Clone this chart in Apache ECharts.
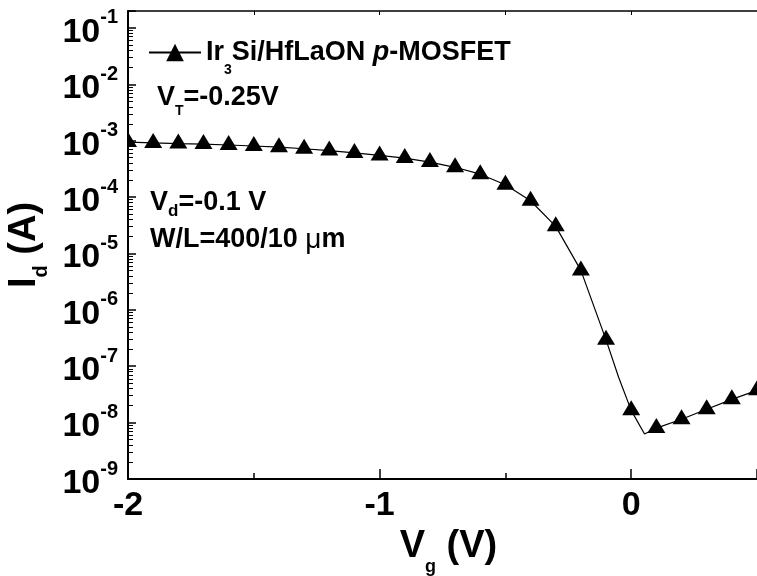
<!DOCTYPE html>
<html><head><meta charset="utf-8">
<script src="https://cdn.jsdelivr.net/npm/echarts@6/dist/echarts.min.js"></script>
<style>html,body{margin:0;padding:0;background:#fff}#c{width:757px;height:576px}</style>
</head><body><div id="c"></div>
<script>
// ---- data ----
const seriesName = 'Ir3Si/HfLaON p-MOSFET';
const markerVg = [-2.0,-1.9,-1.8,-1.7,-1.6,-1.5,-1.4,-1.3,-1.2,-1.1,-1.0,-0.9,-0.8,-0.7,-0.6,-0.5,-0.4,-0.3,-0.2,-0.1,0.0,0.1,0.2,0.3,0.4,0.5];
const markerId = [9.48e-4,9.14e-4,8.89e-4,8.71e-4,8.40e-4,8.07e-4,7.67e-4,7.21e-4,6.68e-4,6.08e-4,5.49e-4,4.92e-4,4.18e-4,3.38e-4,2.55e-4,1.66e-4,8.63e-5,3.03e-5,5.01e-6,2.94e-7,1.65e-8,8.0e-9,1.15e-8,1.73e-8,2.59e-8,3.74e-8];
const curveVg = [-2.0,-1.9,-1.8,-1.7,-1.6,-1.5,-1.4,-1.3,-1.2,-1.1,-1.0,-0.9,-0.8,-0.7,-0.6,-0.5,-0.4,-0.3,-0.2,-0.1,-0.05,0.0,0.053,0.1,0.2,0.3,0.4,0.5];
const curveId = [9.48e-4,9.14e-4,8.89e-4,8.71e-4,8.40e-4,8.07e-4,7.67e-4,7.21e-4,6.68e-4,6.08e-4,5.49e-4,4.92e-4,4.18e-4,3.38e-4,2.55e-4,1.66e-4,8.63e-5,3.03e-5,5.01e-6,2.94e-7,6.37e-8,1.65e-8,6.28e-9,8.0e-9,1.15e-8,1.73e-8,2.59e-8,3.74e-8];
const yDecades = [-9,-8,-7,-6,-5,-4,-3,-2,-1];
const xTickLabels = [-2,-1,0];
const xMin = -2, xMax = 0.5, yMin = 1e-9, yMax = 0.2;

const FF = '"Liberation Sans", Arial, Helvetica, sans-serif';
const minorLog = [];
yDecades.forEach(function (n) {
  for (let k = 2; k <= 9; k++) {
    const v = n + Math.log10(k);
    if (v <= Math.log10(yMax) + 1e-9) minorLog.push(v);
  }
});

const chart = echarts.init(document.getElementById('c'), null, {renderer: 'canvas'});
const black = '#000';
chart.setOption({
  animation: false,
  backgroundColor: '#fff',
  grid: {left: 128, top: 11, width: 629, height: 468, containLabel: false, outerBoundsMode: 'none'},
  legend: {
    data: [seriesName], left: 148, top: 39, padding: 0,
    itemWidth: 52, itemHeight: 22,
    formatter: function () { return '{a|Ir}{s|3}{a|Si/HfLaON }{i|p}{a|-MOSFET}'; },
    textStyle: {
      color: black, fontFamily: FF, fontWeight: 'bold', fontSize: 27,
      rich: {
        a: {fontFamily: FF, fontWeight: 'bold', fontSize: 27, color: black},
        i: {fontFamily: FF, fontWeight: 'bold', fontStyle: 'italic', fontSize: 27, color: black},
        s: {fontFamily: FF, fontWeight: 'bold', fontSize: 14, color: black, padding: [36, 0, 0, 0]}
      }
    }
  },
  xAxis: [
    {
      type: 'value', position: 'bottom', min: xMin, max: xMax, interval: 1,
      splitLine: {show: false},
      axisLine: {onZero: false, lineStyle: {color: black, width: 2}},
      axisTick: {inside: true, length: 10, lineStyle: {color: black, width: 1.5}},
      axisLabel: {
        margin: 10, color: black, fontFamily: FF, fontWeight: 'bold', fontSize: 34,
        formatter: function (v) { return xTickLabels.indexOf(v) >= 0 ? String(v) : ''; }
      },
      name: '{a|V}{s|g}{a| (V)}', nameLocation: 'middle', nameGap: 23,
      nameTextStyle: {
        color: black, fontFamily: FF, fontWeight: 'bold', fontSize: 38, padding: [0, 0, 0, 12],
        rich: {
          a: {fontFamily: FF, fontWeight: 'bold', fontSize: 38, color: black},
          s: {fontFamily: FF, fontWeight: 'bold', fontSize: 18, color: black, padding: [40, 0, 0, 0]}
        }
      }
    },
    {
      type: 'value', position: 'bottom', min: xMin, max: xMax, interval: 0.5,
      splitLine: {show: false}, axisLine: {show: false, onZero: false},
      axisTick: {inside: true, length: 6, lineStyle: {color: black, width: 1.5}},
      axisLabel: {show: false}
    },
    {
      type: 'value', position: 'top', min: xMin, max: xMax, interval: 0.5,
      splitLine: {show: false},
      axisLine: {onZero: false, lineStyle: {color: black, width: 1.5}},
      axisTick: {inside: true, length: 4, lineStyle: {color: black, width: 1}},
      axisLabel: {show: false}
    }
  ],
  yAxis: [
    {
      type: 'log', logBase: 10, position: 'left', min: yMin, max: yMax,
      splitLine: {show: false},
      axisLine: {onZero: false, lineStyle: {color: black, width: 2}},
      axisTick: {inside: true, length: 8, lineStyle: {color: black, width: 1.5}},
      axisLabel: {
        margin: 10, color: black,
        formatter: function (v) {
          const l = Math.log10(v), e = Math.round(l);
          if (Math.abs(l - e) > 1e-6 || yDecades.indexOf(e) < 0) return '';
          return '{b|10}{s|' + e + '}';
        },
        rich: {
          b: {fontFamily: FF, fontWeight: 'bold', fontSize: 34, color: black, padding: [9, 0, 0, 0]},
          s: {fontFamily: FF, fontWeight: 'bold', fontSize: 20, color: black, padding: [0, 0, 20, 0]}
        }
      },
      name: '{a|I}{s|d}{a| (A)}', nameLocation: 'middle', nameGap: 73, nameRotate: 90,
      nameTextStyle: {
        color: black, fontFamily: FF, fontWeight: 'bold', fontSize: 38,
        rich: {
          a: {fontFamily: FF, fontWeight: 'bold', fontSize: 38, color: black},
          s: {fontFamily: FF, fontWeight: 'bold', fontSize: 20, color: black, padding: [33, 0, 0, 0]}
        }
      }
    },
    {
      type: 'value', position: 'left', min: Math.log10(yMin), max: Math.log10(yMax),
      splitLine: {show: false}, axisLine: {show: false, onZero: false},
      axisTick: {inside: true, length: 5, customValues: minorLog, lineStyle: {color: black, width: 1}},
      axisLabel: {show: false}
    },
    {
      type: 'value', position: 'right', min: 0, max: 1,
      splitLine: {show: false},
      axisLine: {onZero: false, lineStyle: {color: '#777', width: 1}},
      axisTick: {show: false}, axisLabel: {show: false}
    }
  ],
  graphic: [
    {type: 'text', x: 157, y: 98, style: {
      text: '{a|V}{s|T}{a|=-0.25V}', verticalAlign: 'middle', align: 'left', fill: black,
      rich: {
        a: {fontFamily: FF, fontWeight: 'bold', fontSize: 27, fill: black, color: black},
        s: {fontFamily: FF, fontWeight: 'bold', fontSize: 14, fill: black, color: black, padding: [26, 0, 0, 0]}
      }}},
    {type: 'text', x: 150, y: 203, style: {
      text: '{a|V}{s|d}{a|=-0.1 V}', verticalAlign: 'middle', align: 'left', fill: black,
      rich: {
        a: {fontFamily: FF, fontWeight: 'bold', fontSize: 27, fill: black, color: black},
        s: {fontFamily: FF, fontWeight: 'bold', fontSize: 17, fill: black, color: black, padding: [17, 0, 0, 0]}
      }}},
    {type: 'text', x: 150, y: 240, style: {
      text: '{a|W/L=400/10 }{u|\u03bc}{a|m}', verticalAlign: 'middle', align: 'left', fill: black,
      rich: {
        a: {fontFamily: FF, fontWeight: 'bold', fontSize: 27, fill: black, color: black},
        u: {fontFamily: FF, fontWeight: 'normal', fontSize: 28, fill: black, color: black}
      }}}
  ],
  series: [
    {
      name: seriesName, type: 'line', xAxisIndex: 0, yAxisIndex: 0,
      data: curveVg.map(function (v, i) { return [v, curveId[i]]; }),
      symbol: 'triangle', showSymbol: false, clip: true, silent: true,
      lineStyle: {color: black, width: 1.2}, itemStyle: {color: black}, z: 2
    },
    {
      name: 'markers', type: 'custom', xAxisIndex: 0, yAxisIndex: 0, clip: true, silent: true, z: 3,
      data: markerVg.map(function (v, i) { return [v, markerId[i]]; }),
      encode: {x: 0, y: 1},
      renderItem: function (params, api) {
        const p = api.coord([api.value(0), api.value(1)]);
        const w = 18, h = 15;
        return {type: 'polygon', shape: {points: [[p[0], p[1] - 2 * h / 3], [p[0] + w / 2, p[1] + h / 3], [p[0] - w / 2, p[1] + h / 3]]},
          style: {fill: black}};
      }
    }
  ]
});
</script></body></html>
